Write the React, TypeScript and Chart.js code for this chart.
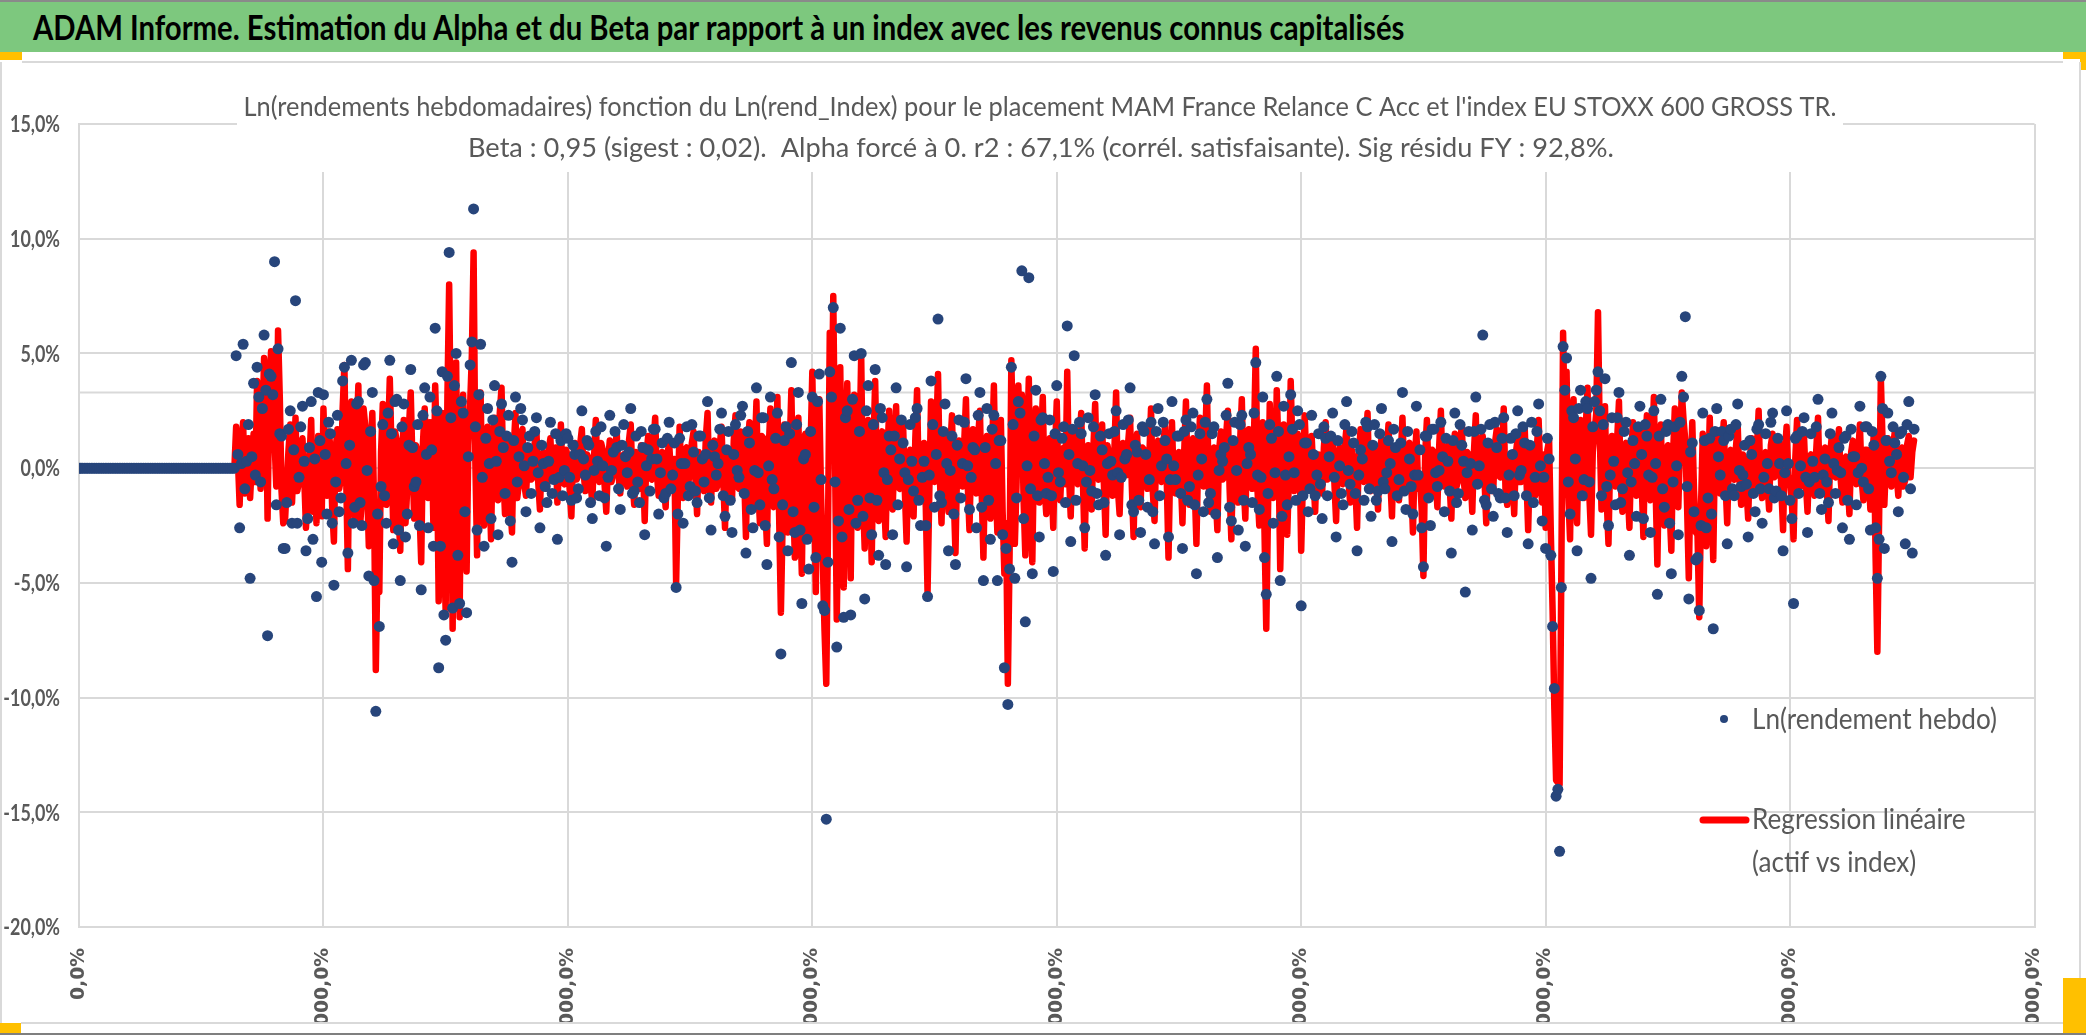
import React, { useEffect, useRef } from "react";
import { Chart, registerables } from "chart.js";

Chart.register(...registerables);

// ---------------- Texts ----------------
const headerTitle =
  "ADAM Informe. Estimation du Alpha et du Beta par rapport à un index avec les revenus connus capitalisés";
const chartTitleLine1 =
  "Ln(rendements hebdomadaires) fonction du Ln(rend_Index) pour le placement MAM France Relance C Acc et l'index EU STOXX 600 GROSS TR.";
const chartTitleLine2 =
  "Beta : 0,95 (sigest : 0,02).  Alpha forcé à 0. r2 : 67,1% (corrél. satisfaisante). Sig résidu FY : 92,8%.";
const legendFund = "Ln(rendement hebdo)";
const legendRegLine1 = "Regression linéaire";
const legendRegLine2 = "(actif vs index)";

// ---------------- Axes ----------------
const xTickLabels = [
  "0,0%",
  "3738000,0%",
  "3878000,0%",
  "4018000,0%",
  "4158000,0%",
  "4298000,0%",
  "4438000,0%",
  "4578000,0%",
  "4718000,0%",
];
const xMin = 0;
const xMax = 1120;
const xStep = 140;
const yMin = -20;
const yMax = 15;
const yStep = 5;
const secondaryGridValue = 3.3;

// ---------------- Data (weekly log-returns, %) ----------------
// weeks before the fund's history: flat at 0
const leadingZeros = [
  0, 0, 0, 0, 0, 0, 0, 0, 0, 0, 0, 0, 0, 0, 0, 0, 0, 0, 0, 0, 0, 0, 0, 0, 0, 0, 0, 0, 0, 0,
  0, 0, 0, 0, 0, 0, 0, 0, 0, 0, 0, 0, 0, 0, 0, 0, 0, 0, 0, 0, 0, 0, 0, 0, 0, 0, 0, 0, 0, 0,
  0, 0, 0, 0, 0, 0, 0, 0, 0, 0, 0, 0, 0, 0, 0, 0, 0, 0, 0, 0, 0, 0, 0, 0, 0, 0, 0, 0, 0, 0,
];

// fund weekly log-returns, even weeks
const fundEvenWeeks = [
  4.9, -2.6, 5.4, 0.3, -4.8, 3.7, 4.4, -0.6, 5.8, -7.3, 4.0, 9.0, 5.2, 1.4,
  -3.5, 1.7, -2.4, 7.3, -0.4, 2.7, -3.6, 0.9, -3.1, -5.6, 1.2, 3.2, -2.0, 1.5, -5.1, 2.3, -1.3, 4.4,
  -3.7, 4.7, -1.7, 2.9, -2.5, 4.6, -4.7, 3.3, -10.6, -6.9,
  1.9, -2.4, 4.7, -3.3, 3.0, -4.9, 2.8, -2.0, 4.3, -0.8, 1.9, -5.3, 3.5, -2.6, 0.8,
  6.1, -8.7, 4.2, -7.5, 9.4, -6.1, 5.0, -5.9, 2.4, -6.3, 4.5, 11.3, -2.7,
  5.4, -3.4, 2.6, -2.2, 3.6, -2.9, 2.8, -1.1, 2.3, -4.1, 3.1, 0.5, 2.1,
  -1.9, 1.4, 0.3, 2.2, -2.6, 0.2, -1.5, 2.0, -0.5, -3.1,
  1.2, -0.1, 1.3, -1.4, 0.6, -0.9, 2.5, -0.3, 1.0, -2.2,
  1.6, -1.2, 0.1, -3.4, 2.3, 0.7, 0.9, -1.8, 1.9, -0.2,
  2.6, -1.0, -0.6, 1.6, -2.9, 0.8, 0.4, 1.7, -2.0, 1.1,
  -1.1, 2.0, -0.3, -5.2, 1.3, -2.4, 1.8, -0.8, 0.7, -1.5,
  1.4, -0.6, 2.9, -2.7, 0.5, 0.2, 2.4, -2.1, 1.6, -2.8,
  1.9, -0.4, 2.7, -3.7, 1.1, -2.6, 3.5, -1.6, 2.2, -4.2,
  3.1, -0.9, 2.4, -8.1, 1.2,
  -3.6, 4.6, -2.8, 3.3, -5.9, 0.6, -4.4, 3.1, -3.9, 4.1,
  -6.0, -15.3, 4.2, 7.0, -7.8, 6.1, -6.5, 2.5, -6.4, 4.9,
  -1.4, 5.0, -5.7, 3.6, -2.9, 4.3, -3.8, 2.2, -4.2, 1.4,
  -2.9, 3.5, 0.4, 1.1, -4.3, 1.9, -1.0, 2.6, -2.5, 0.3,
  -5.6, 3.8, -1.7, 6.5, -1.5, 2.8, -3.6, 1.4, -4.2, 2.1,
  0.2, 3.9, -1.8, 0.9, -2.6, 3.3, -4.9, 2.6, -3.1, 2.3,
  -4.9, 1.2, -8.7, -10.3, 4.4, -4.8, 2.9, 8.6, -6.7, 8.3, -4.6, 3.4, -3.0, 2.2, -1.1,
  2.1, -4.5, 3.6, -0.6, 1.8, 6.2, -3.2, 4.9, 0.2, 1.5,
  -2.6, 2.2, -1.0, 3.2, -1.6, 0.8, -3.8, 1.5, -0.3, 2.5,
  -2.9, 1.9, 0.6, 3.5, -1.9, 0.7, -2.8, 1.6, -1.7, 2.0,
  -3.3, 2.6, 0.1, 1.2, -3.0, 2.9, -0.5, 1.4,
  -3.5, 2.1, -0.8, 2.4, -4.6, 1.5, -1.9, 3.0, -1.1, 1.8,
  -3.9, 0.6, 0.9, 3.7, -2.3, 2.0, -2.7, 2.3, -3.4, 0.9,
  -1.5, 4.6, -1.8, 3.1, -5.5, 1.9, -2.4, 4.0, -4.9, 2.7,
  -1.6, 3.2, -0.2, 2.5, -6.0, 1.1, -1.9,
  2.3, -1.2, 1.5, -2.2, 1.3, 0.5, 2.4, -3.0, 0.1, -1.6,
  2.9, -0.7, 1.1, -3.6, 0.8, -1.4, 1.8, -2.1, 1.9, -1.0,
  2.6, -0.9, 1.2, -3.2, 0.9, -0.5, 3.3, -1.8, 0.4, -2.0,
  2.7, 0.8, -4.3, 1.4, -2.5, 1.7, -0.8, 2.0, -1.9, 0.3,
  -3.7, 2.4, -1.1, 1.0, -5.4, 1.6, -2.7, 3.1, 0.1, 5.8,
  -1.6, 1.9, -2.1, 0.9, -1.3, 2.2, -2.8, 1.3, -1.2, 2.5,
  -0.1, 1.1, -3.3, 2.0, -0.4, 2.8, -2.3,
  -3.5, 0.4, -6.9, -14.3, -16.7, 5.3, 4.8, -2.0,
  2.2, -3.6, 3.4, -0.5, 2.6, -4.8, 2.9, 4.2, -1.2, 3.9, -2.5, 2.2, -1.6, 3.3, -0.9, 2.0, -3.8, 1.2, -2.1,
  2.7, -2.2, 1.4, -2.8, 2.5, -5.5, 3.0, -1.7, 1.9, -4.6, 1.8, -2.9, 4.0, 6.6, -5.7, 1.1, -4.0, -6.2, 2.4, -2.6, 1.3, -7.0,
  2.6, -0.3, 1.2, -3.3, 1.7, -1.2, 2.8, -0.8, 1.0, -3.0,
  0.6, -1.9, 1.9, -2.4, 1.5, -0.9, 2.4, -1.0, 0.2, -3.6,
  2.5, -1.4, -5.9, 1.4, 0.1, 2.2, -2.8, 1.5, -0.4, 3.0,
  -1.8, 0.4, -1.5, 2.4, -1.1, 0.9, -2.6, 1.4, -3.1, 0.5,
  -1.6, 2.7, -0.6, 1.8, -2.7,
  1.0, -4.8, 4.0, -3.5, 2.4, -0.2, 1.1, -1.9, 1.6, -3.3, 2.9, -3.7,
];

// fund weekly log-returns, odd weeks
const fundOddWeeks = [
  0.6, 0.2, -0.9, 1.9, 0.5, -0.3, 3.1, 2.6, 3.4, 4.1, 3.2, -1.6, 1.5, -3.5,
  -1.5, 2.5, 0.8, -2.4, 1.8, 0.3, -2.2, 2.9, 0.4, 3.3, -4.1, 0.6, 2.0, -2.4, -0.6, -1.9, 3.8, 0.2,
  1.0, -2.4, 2.8, -1.5, 4.5, -0.1, 1.6, -4.9, -2.0, -0.8,
  -1.2, 2.4, 1.5, 2.9, -2.7, 1.8, -3.0, 1.0, 0.9, -0.6, -2.5, 2.3, 0.6, 3.1, -3.4,
  2.5, -3.4, -6.4, 4.0, 2.2, 3.6, -3.8, 2.9, -1.9, 0.5, 5.5, 1.8, 3.2,
  -0.4, 1.3, 0.2, 2.1, 0.3, 1.6, 0.9, 1.4, -2.3, 1.2, -0.6, 2.6, 0.1,
  0.9, -1.1, 1.6, -0.2, 1.0, -0.8, 0.3, -1.1, 1.5, -0.4,
  -1.2, 1.5, -0.4, 1.0, -1.3, 0.6, 0.4, 1.2, -1.5, -0.1,
  0.3, 1.8, -1.3, -0.4, -0.1, 1.6, -0.9, 1.0, 0.5, 0.7,
  -1.1, 1.4, -1.5, 0.9, 0.1, -1.0, 1.7, 0.4, -0.2, -1.3,
  1.3, -0.9, 1.1, -2.0, 0.2, 0.2, -1.2, 1.9, -1.0, 1.4,
  0.4, 0.6, -1.3, 1.0, -0.3, 1.7, -1.2, 0.8, -1.4, 0.6,
  -0.1, 2.3, -1.1, 1.6, -1.8, -0.1, -0.2, 2.2, -2.5, 0.1,
  -0.5, 1.3, -3.0, -1.6, 1.8,
  1.5, -1.9, 1.9, -2.7, 0.4, -3.1, 1.6, -1.7, 2.9, -0.5,
  -6.2, -4.1, 3.1, -0.6, -2.3, -3.0, 2.2, -1.8, 3.0, -2.4,
  1.6, -2.1, 2.5, -1.3, 1.9, -1.4, 2.6, -0.2, -0.5, 0.8,
  1.4, -1.6, 2.1, -0.2, -0.5, 0.3, 2.2, -1.4, -0.4, -2.5,
  -0.3, 1.9, 0.6, -1.2, 1.6, 0.2, -0.1, -2.0, 1.0, -1.3,
  2.0, 0.1, -0.4, 0.8, 2.3, -1.7, 0.9, -1.4, 1.7, 0.2,
  1.2, -2.9, -3.5, -4.4, 1.9, -1.3, 2.4, -2.2, 0.1, -0.9, 1.4, -1.2, 2.1, 0.2, -0.4,
  -1.2, 1.5, -0.2, 1.3, -1.5, 0.6, 1.7, -1.4, 2.0, 0.1,
  -0.6, -0.1, 1.8, -1.1, 1.4, -1.5, 0.2, 0.3, 1.6, -0.2,
  -0.4, 0.4, 2.1, -1.6, 1.0, -1.4, 1.8, 0.6, -0.5, -1.9,
  1.6, -1.2, 2.0, 0.4, -0.5, 0.1, 1.4, -1.1,
  1.6, -1.4, 1.8, -1.6, -0.3, 0.4, 2.0, -1.5, 1.5, -2.0,
  -0.1, 0.3, 2.3, -1.7, 1.2, -0.1, 1.9, -1.4, 0.2, 0.6,
  2.4, -0.3, -0.4, -3.9, -1.1, 1.3, -0.2, 1.6, -2.1, -0.3,
  0.5, 1.7, -1.4, 1.9, -1.2, 1.1, -0.9,
  0.6, -0.3, -0.7, 1.8, -1.2, 1.4, -0.4, 1.2, -1.1, 1.9,
  -0.1, 1.6, -1.1, -0.3, 0.4, 2.0, -0.9, 1.0, -1.4, 1.5,
  -0.6, -0.2, 0.2, 1.7, -1.2, 1.1, -1.0, 1.6, -0.8, -0.3,
  -0.3, -2.6, 1.4, -1.3, 1.7, -0.2, -0.1, 0.5, 1.3, -1.0,
  1.2, -1.5, 1.9, 0.3, -0.2, 0.2, 1.6, -0.7, 1.7, -1.4,
  1.1, -0.9, 2.0, -1.1, 1.3, -1.3, -0.3, 0.6, 1.5, -0.3,
  1.8, -1.2, 1.0, -1.5, 1.6, 0.1, -0.4,
  1.3, -3.8, -9.6, -14.0, -5.2, 3.4, -0.6, 2.5,
  0.4, 2.6, -1.2, 2.9, -0.6, 1.8, 3.4, 2.5, 1.9, -0.8, -0.3, 0.3, 2.2, -1.5, 1.6, -0.2, -0.6, 0.2, 1.8,
  0.6, 1.9, -0.3, -0.4, 0.2, 1.4, -0.9, 1.6, -2.4, -0.6, 0.1, 2.0, 3.1, -0.8, 0.7, -1.9, -3.9, -2.5, 1.2, -1.3, -2.0, 1.6,
  0.5, 1.6, -1.2, 1.4, -0.9, 1.9, -0.1, -0.3, -0.7, 1.2,
  -1.1, 1.7, -0.9, -0.4, 0.2, 2.0, -1.3, 1.3, -1.2, -0.2,
  0.2, -2.2, 1.3, -1.1, 1.6, -0.4, -0.6, 0.3, 1.8, -1.1,
  -0.3, -0.6, 1.5, 0.2, -0.1, -0.2, 1.3, -1.4, 1.7, 0.5,
  -0.2, 0.0, 1.8, -0.9, 1.6,
  -2.6, -3.1, 2.6, 1.2, 0.3, 1.8, 0.6, 1.5, -0.4, 1.9, -0.9, 1.7,
];

// regression line (beta x index log-return), even weeks
const regressionEvenWeeks = [
  1.8, -1.6, 2.0, 0.5, -1.3, 1.5, 3.8, -0.9, 4.8, -2.2, 5.1, 1.2, 6.0, -1.0,
  -2.3, 0.8, -1.5, 2.2, -0.6, 1.3, -2.6, 0.4, -1.9, -2.4, -0.8, 2.6, -1.2, 0.9, -3.2, 1.7, -0.5, 4.5,
  -4.4, 2.9, -2.1, 3.6, -1.4, 1.8, -3.4, 2.4, -8.8, -5.4,
  2.8, -1.6, 3.9, -2.7, 1.2, -3.6, 2.1, -0.9, 3.3, -2.2, 0.7, -4.1, 2.6, -1.3, 1.5,
  3.6, -5.8, 2.4, -6.2, 8.0, -7.0, 4.6, -6.5, 3.2, -4.5, 2.7, 9.4, -3.8,
  3.3, -2.5, 1.8, -3.1, 2.2, -1.4, 3.5, -2.0, 1.1, -2.8, 2.4, -0.6, 1.7,
  -1.2, 0.9, -0.4, 1.6, -1.8, 0.7, -0.9, 1.3, 0.2, -1.5,
  1.9, -0.7, 0.5, -2.1, 1.1, -0.3, 1.7, -1.0, 0.4, -1.4,
  2.1, -0.6, 0.8, -1.9, 1.2, -0.2, 1.5, -1.1, 0.6, -0.8,
  1.9, -1.6, 0.3, 1.0, -2.3, 1.4, -0.5, 2.2, -1.2, 0.7,
  -1.7, 1.1, -0.9, -5.0, 1.8, -1.3, 0.9, -0.2, 1.6, -2.0,
  0.5, -1.0, 2.4, -1.5, 1.2, -0.7, 1.8, -2.6, 0.8, -1.4,
  2.3, -0.9, 1.4, -3.0, 2.0, -1.8, 2.9, -2.4, 1.3, -3.3,
  2.6, -1.7, 3.1, -6.3, 1.9,
  -2.8, 3.4, -3.9, 2.2, -4.6, 1.5, -3.1, 4.2, -5.4, 3.0,
  -4.0, -9.4, 5.9, 7.5, -6.6, 4.4, -5.2, 3.7, -4.8, 3.2,
  -2.6, 4.9, -3.5, 2.1, -4.1, 3.8, -2.3, 1.6, -3.0, 2.5,
  -1.8, 2.7, -0.9, 1.9, -3.2, 0.8, -2.1, 3.4, -1.3, 1.1,
  -5.4, 2.9, -0.6, 4.1, -2.4, 1.5, -1.9, 2.3, -3.7, 1.2,
  -0.8, 3.0, -2.7, 1.7, -1.1, 2.5, -3.9, 1.4, -2.2, 3.6,
  -2.8, 2.1, -4.6, -9.4, 4.7, -3.3, 3.6, 3.2, -3.8, 3.9, -4.1, 2.6, -1.5, 3.1, -2.0,
  1.3, -2.6, 2.9, -1.4, 0.9, 4.2, -2.1, 1.6, -0.7, 2.4,
  -3.5, 1.0, -1.8, 2.8, -0.5, 1.9, -2.9, 0.6, -1.2, 3.3,
  -2.0, 1.1, -0.3, 2.2, -3.0, 1.5, -1.7, 0.8, -0.9, 2.6,
  -2.3, 1.2, -0.6, 1.8, -3.9, 2.0, -1.1, 0.7,
  -2.4, 2.9, -1.6, 1.3, -3.3, 2.2, -0.8, 3.6, -1.9, 0.9,
  -2.7, 1.6, -0.4, 2.5, -3.1, 1.0, -1.5, 3.0, -2.2, 1.7,
  -0.9, 5.2, -2.5, 2.0, -7.0, 2.8, -1.3, 3.4, -4.4, 1.9,
  -2.9, 3.8, -1.0, 1.5, -3.6, 2.3, -0.8,
  1.4, -1.9, 0.6, -1.1, 2.0, -0.4, 1.2, -2.3, 0.9, -0.7,
  1.8, -1.5, 0.3, -2.6, 1.7, -0.6, 2.4, -1.0, 0.8, -1.8,
  1.3, -0.2, 1.9, -2.1, 0.5, -1.4, 2.2, -0.9, 1.1, -2.8,
  1.6, -0.3, -4.7, 2.1, -1.2, 0.7, -1.7, 2.5, -0.8, 1.0,
  -2.2, 1.5, -0.5, 1.9, -1.3, 0.6, -1.9, 2.3, -0.7, 1.4,
  -2.4, 0.9, -1.0, 1.7, -0.4, 2.6, -1.6, 0.4, -2.0, 1.3,
  -0.6, 1.8, -2.7, 1.0, -1.2, 2.1, -1.5,
  -2.6, 1.2, -6.2, -13.6, -13.8, 5.9, 4.2, -3.1,
  3.0, -2.4, 2.1, -1.3, 3.5, -2.9, 1.6, 6.8, -1.8, 2.7, -3.3, 1.4, -0.8, 2.9, -1.9, 1.1, -2.6, 2.0, -1.2,
  1.8, -3.0, 2.3, -1.4, 3.1, -4.2, 1.9, -2.5, 1.0, -3.6, 2.6, -1.7, 3.3, 1.2, -4.8, 2.0, -2.8, -6.5, 1.5, -3.4, 2.2, -4.0,
  1.6, -1.1, 2.0, -2.4, 0.8, -0.5, 1.9, -1.6, 0.4, -2.2,
  1.3, -0.9, 2.5, -1.3, 0.7, -1.8, 1.5, -0.3, 1.1, -2.7,
  1.8, -0.6, -3.1, 2.1, -0.8, 1.4, -1.9, 0.6, -1.2, 2.2,
  -1.0, 0.9, -2.3, 1.5, -0.4, 1.7, -1.5, 0.5, -2.0, 1.2,
  -0.7, 1.9, -1.4, 0.8, -1.8,
  1.5, -8.0, 3.9, -1.6, 1.3, -0.8, 1.6, -1.2, 0.9, -0.5, 1.4, 0.7,
];

// regression line, odd weeks
const regressionOddWeeks = [
  0.4, 0.9, -1.1, 1.3, 0.2, -0.6, 2.9, 1.6, 3.6, 3.2, 4.4, -0.8, 3.1, -2.4,
  -0.7, 1.9, 0.3, -1.0, 0.9, -0.4, -1.2, 2.1, 0.6, 1.4, -2.1, 0.2, 1.6, -1.7, 0.8, -0.9, 2.6, -0.3,
  1.7, -1.0, 1.4, -2.5, 2.6, -0.8, 0.9, -1.6, -3.9, 0.7,
  -0.5, 1.3, 0.8, 1.6, -1.9, 0.4, -2.4, 1.8, 0.2, 1.0, -1.8, 1.1, -0.4, 2.0, -2.6,
  0.9, -2.1, -3.5, 3.1, 1.4, 2.2, -2.8, 1.7, -1.2, 1.0, 4.9, 0.3, 2.4,
  -1.1, 0.6, -0.4, 1.2, -0.9, 2.4, -0.2, 0.8, -1.6, 0.9, -1.3, 1.5, -0.7,
  0.3, -0.5, 1.1, -0.6, 0.4, -0.3, 0.8, -0.4, 0.9, 0.2,
  -0.6, 0.8, -0.9, 0.4, -0.5, 1.0, -0.2, 0.6, -0.8, 0.5,
  -0.4, 1.1, -0.7, 0.3, -0.6, 0.9, -0.3, 0.5, -0.2, 1.2,
  -0.5, 0.7, -0.9, 0.2, 0.6, -0.4, 1.0, -0.3, 0.5, -0.8,
  0.6, -0.2, 0.4, -1.2, -0.5, 0.8, -0.6, 1.1, -0.4, 0.7,
  -0.3, 1.3, -0.6, 0.4, -0.9, 1.0, -0.5, 0.2, -0.7, 1.2,
  -0.8, 1.6, -0.4, 0.9, -1.1, 0.6, -0.9, 1.4, -1.6, 0.8,
  -1.2, 0.5, -2.1, -2.4, 0.9,
  0.8, -1.2, 0.5, -1.9, 1.1, -2.3, 0.9, -0.8, 1.6, -1.1,
  -7.1, -2.6, 1.2, 0.6, -1.4, -2.1, 1.0, -0.9, 1.8, -1.5,
  0.7, -1.2, 1.3, -0.6, 0.9, -0.5, 1.4, -1.1, 0.6, -0.2,
  0.6, -0.8, 1.2, -1.0, 0.4, -0.6, 1.3, -0.9, 0.5, -1.7,
  -1.1, 0.7, 1.5, -0.3, 0.8, -0.5, 0.9, -1.2, 0.3, -0.4,
  1.1, -0.7, 0.6, -0.3, 1.4, -1.0, 0.2, -0.5, 0.9, -0.6,
  0.5, -1.9, -2.4, -3.7, 0.8, -0.6, 1.2, -1.4, 0.9, -1.8, 0.7, -0.4, 1.3, -0.8, 0.6,
  -0.4, 0.7, -0.9, 0.5, -0.7, -0.3, 0.8, -0.5, 1.1, -0.6,
  0.4, -0.8, 0.9, -0.2, 0.6, -0.7, 1.0, -0.4, 0.7, -0.9,
  0.5, -0.3, 1.2, -0.8, 0.3, -0.6, 0.9, -0.2, 0.5, -1.0,
  0.8, -0.4, 1.1, -0.5, 0.2, -0.7, 0.6, -0.3,
  0.7, -0.6, 0.9, -0.8, 0.5, -0.4, 1.2, -0.7, 0.6, -1.1,
  0.8, -0.5, 1.4, -0.9, 0.4, -0.8, 1.1, -0.6, 0.9, -0.3,
  1.5, -1.0, 0.6, -2.8, -1.9, 0.4, -0.9, 0.7, -1.2, 0.5,
  -0.4, 0.8, -0.6, 1.0, -0.5, 0.3, -0.2,
  -0.3, 0.6, -0.8, 0.9, -0.5, 0.7, -0.6, 0.4, -0.2, 1.0,
  -0.4, 0.8, -0.7, 0.5, -0.3, 1.1, -0.6, 0.3, -0.5, 0.7,
  -0.8, 0.6, -0.4, 0.9, -0.7, 0.5, -0.2, 0.8, -0.6, 0.4,
  -0.9, -1.8, 0.6, -0.5, 0.8, -0.4, 0.9, -0.3, 0.6, -0.7,
  0.5, -0.8, 1.0, -0.4, 0.7, -0.3, 0.8, -0.6, 0.9, -0.5,
  0.4, -0.7, 1.1, -0.3, 0.6, -0.9, 0.5, -0.2, 0.7, -0.6,
  1.0, -0.4, 0.3, -0.8, 0.9, -0.5, 0.6,
  0.8, -2.9, -10.5, -13.7, -4.5, 1.6, -1.2, 1.9,
  -0.9, 1.2, -0.6, 1.8, -1.1, 0.7, 2.4, 1.5, 0.9, -1.4, 0.6, -0.5, 1.3, -0.7, 0.8, -0.9, 0.5, -0.6, 1.0,
  -0.6, 0.9, -1.2, 0.8, -0.9, 0.5, -1.4, 0.7, -1.8, 0.6, -0.8, 1.1, 2.1, -1.6, -0.4, -1.0, -2.9, -1.7, 0.4, -0.8, -1.1, 0.9,
  -0.4, 0.7, -0.6, 0.5, -0.3, 0.9, -0.5, 0.6, -0.8, 0.4,
  -0.2, 0.8, -0.7, 0.3, -0.6, 1.0, -0.4, 0.5, -0.9, 0.6,
  -0.3, -1.4, 0.4, -0.5, 0.7, -0.6, 0.3, -0.4, 0.8, -0.7,
  0.5, -0.8, 0.6, -0.3, 0.9, -0.5, 0.4, -0.6, 0.7, -0.4,
  0.6, -0.5, 0.8, -0.3, 0.5,
  -3.9, -2.2, 1.1, 0.4, -0.5, 0.9, -0.3, 0.6, -0.8, 1.0, -0.4, 1.2,
];

// ---------------- Styling ----------------
const UI_FONT = "Lato, 'Open Sans', 'DejaVu Sans', sans-serif";
const X_FONT = "'DejaVu Sans', sans-serif";
const TEXT_GREY = "#595959";
const GRID = "#d9d9d9";
const DOT_BLUE = "#27457b";
const LINE_RED = "#ff0000";

const CANVAS_TOP = 62;
const CANVAS_W = 2078;
const CANVAS_H = 960;

const HEADER_SIZE = 34.5;
const TITLE_SIZE = 26.5;
const LEGEND_SIZE = 29;
const YTICK_SIZE = 23;

function measure(text: string, weight: string, size: number, family: string): number {
  const c = document.createElement("canvas").getContext("2d");
  if (!c) return text.length * size * 0.5;
  c.font = `${weight} ${size}px ${family}`;
  return c.measureText(text).width;
}

const fmtPct = (v: number) => `${v.toFixed(1).replace(".", ",")}%`;

function interleave(even: number[], odd: number[]): number[] {
  const out: number[] = [];
  for (let i = 0; i < even.length; i++) {
    out.push(even[i]);
    if (i < odd.length) out.push(odd[i]);
  }
  return out;
}

function drawCondensed(
  ctx: CanvasRenderingContext2D,
  text: string,
  x: number,
  baseline: number,
  sx: number,
  align: CanvasTextAlign
) {
  ctx.save();
  ctx.translate(x, baseline);
  ctx.scale(sx, 1);
  ctx.textAlign = align;
  ctx.textBaseline = "alphabetic";
  ctx.fillText(text, 0, 0);
  ctx.restore();
}

export default function App() {
  const canvasRef = useRef<HTMLCanvasElement | null>(null);
  const headerSX = 1373 / measure(headerTitle, "bold", HEADER_SIZE, UI_FONT);

  useEffect(() => {
    const canvas = canvasRef.current;
    if (!canvas) return;

    const xSize = (100 * 52) / measure("0,0%", "bold", 100, X_FONT);
    const ySX = 50 / measure("15,0%", "bold", YTICK_SIZE, UI_FONT);
    const title1SX = 1593 / measure(chartTitleLine1, "normal", TITLE_SIZE, UI_FONT);
    const title2SX = 1146 / measure(chartTitleLine2, "normal", TITLE_SIZE, UI_FONT);
    const legSX = 245 / measure(legendFund, "normal", LEGEND_SIZE, UI_FONT);

    const fundValues = [...leadingZeros, ...interleave(fundEvenWeeks, fundOddWeeks)];
    const regValues = [...leadingZeros, ...interleave(regressionEvenWeeks, regressionOddWeeks)];
    const fundData = fundValues.map((v, i) => ({ x: i, y: v }));
    const regData = regValues.map((v, i) => ({ x: i, y: v }));

    const overlay = {
      id: "overlay",
      beforeDatasetsDraw(chart: any) {
        const { ctx, chartArea, scales } = chart;
        const y = scales.y.getPixelForValue(secondaryGridValue);
        ctx.save();
        ctx.strokeStyle = GRID;
        ctx.lineWidth = 2;
        ctx.beginPath();
        ctx.moveTo(chartArea.left, y);
        ctx.lineTo(chartArea.right, y);
        ctx.stroke();
        ctx.restore();
      },
      afterDraw(chart: any) {
        const ctx = chart.ctx as CanvasRenderingContext2D;
        ctx.save();
        const yScale = chart.scales.y;
        ctx.fillStyle = TEXT_GREY;
        ctx.font = `bold ${YTICK_SIZE}px ${UI_FONT}`;
        for (const t of yScale.ticks) {
          const py = yScale.getPixelForValue(t.value);
          drawCondensed(ctx, fmtPct(t.value), 60, py + YTICK_SIZE * 0.36, ySX, "right");
        }

        ctx.fillStyle = "#ffffff";
        ctx.fillRect(237, 80 - CANVAS_TOP, 1843 - 237, 172 - 80);
        ctx.fillStyle = TEXT_GREY;
        ctx.font = `normal ${TITLE_SIZE}px ${UI_FONT}`;
        drawCondensed(ctx, chartTitleLine1, 1040, 116 - CANVAS_TOP, title1SX, "center");
        drawCondensed(ctx, chartTitleLine2, 1041, 157 - CANVAS_TOP, title2SX, "center");

        ctx.fillStyle = DOT_BLUE;
        ctx.beginPath();
        ctx.arc(1724, 719 - CANVAS_TOP, 4, 0, Math.PI * 2);
        ctx.fill();
        ctx.strokeStyle = LINE_RED;
        ctx.lineWidth = 7;
        ctx.lineCap = "round";
        ctx.beginPath();
        ctx.moveTo(1703, 820 - CANVAS_TOP);
        ctx.lineTo(1746, 820 - CANVAS_TOP);
        ctx.stroke();
        ctx.fillStyle = TEXT_GREY;
        ctx.font = `normal ${LEGEND_SIZE}px ${UI_FONT}`;
        drawCondensed(ctx, legendFund, 1752, 729 - CANVAS_TOP, legSX, "left");
        drawCondensed(ctx, legendRegLine1, 1752, 829 - CANVAS_TOP, legSX, "left");
        drawCondensed(ctx, legendRegLine2, 1752, 872 - CANVAS_TOP, legSX, "left");
        ctx.restore();
      },
    };

    const chart = new Chart(canvas, {
      type: "line",
      data: {
        datasets: [
          {
            label: legendFund,
            data: fundData,
            showLine: false,
            pointRadius: 5.5,
            pointHoverRadius: 5.5,
            pointBorderWidth: 0,
            pointBackgroundColor: DOT_BLUE,
            borderColor: DOT_BLUE,
          },
          {
            label: legendRegLine1 + " " + legendRegLine2,
            data: regData,
            borderColor: LINE_RED,
            borderWidth: 6.5,
            pointRadius: 0,
            tension: 0,
            borderJoinStyle: "round",
            borderCapStyle: "round",
          },
        ],
      },
      options: {
        responsive: false,
        animation: false,
        devicePixelRatio: 1,
        events: [],
        layout: { padding: { top: 62, right: 11, left: 0, bottom: 0 } },
        plugins: {
          legend: { display: false },
          tooltip: { enabled: false },
          title: { display: false },
        },
        scales: {
          x: {
            type: "linear",
            min: xMin,
            max: xMax,
            afterFit: (s: any) => {
              s.height = 95;
            },
            grid: { color: GRID, lineWidth: 2, drawTicks: false },
            border: { color: GRID, width: 2 },
            ticks: {
              stepSize: xStep,
              autoSkip: false,
              minRotation: 90,
              maxRotation: 90,
              padding: 21,
              color: TEXT_GREY,
              font: { family: X_FONT, size: xSize, weight: "bold" },
              callback: (v: any) => xTickLabels[Math.round((Number(v) - xMin) / xStep)] ?? "",
            },
          },
          y: {
            min: yMin,
            max: yMax,
            afterFit: (s: any) => {
              s.width = 79;
            },
            grid: { color: GRID, lineWidth: 2, drawTicks: false },
            border: { color: GRID, width: 2 },
            ticks: {
              stepSize: yStep,
              display: false,
              callback: (v: any) => fmtPct(Number(v)),
            },
          },
        },
      },
      plugins: [overlay],
    } as any);

    return () => chart.destroy();
  }, []);

  const abs = (l: number, t: number, w: number, h: number, bg: string): React.CSSProperties => ({
    position: "absolute",
    left: l,
    top: t,
    width: w,
    height: h,
    background: bg,
  });

  return (
    <div style={{ position: "relative", width: 2086, height: 1035, background: "#ffffff", overflow: "hidden" }}>
      <style>{`body{margin:0;}`}</style>
      <div style={{ ...abs(0, 0, 2086, 52, "#7dc87e"), borderTop: "2px solid #8a8a8a", boxSizing: "border-box" }}>
        <span
          style={{
            position: "absolute",
            left: 33,
            top: 0,
            lineHeight: "50px",
            fontFamily: UI_FONT,
            fontWeight: "bold",
            fontSize: HEADER_SIZE,
            color: "#000000",
            whiteSpace: "nowrap",
            transform: `scaleX(${headerSX})`,
            transformOrigin: "0 0",
          }}
        >
          {headerTitle}
        </span>
      </div>
      <div style={abs(0, 52, 22, 8, "#ffc000")} />
      <div style={abs(2063, 52, 23, 7, "#ffc000")} />
      <div style={abs(2080, 52, 6, 18, "#ffc000")} />
      <div style={abs(22, 61, 2041, 2, "#d9d9d9")} />
      <canvas
        ref={canvasRef}
        width={CANVAS_W}
        height={CANVAS_H}
        style={{ position: "absolute", left: 0, top: CANVAS_TOP, width: CANVAS_W, height: CANVAS_H }}
      />
      <div style={abs(2079, 62, 2, 960, "#d9d9d9")} />
      <div style={abs(0, 62, 2, 962, "#d9d9d9")} />
      <div style={abs(21, 1022, 2042, 2, "#d9d9d9")} />
      <div style={abs(0, 1023, 21, 10, "#ffc000")} />
      <div style={abs(2063, 978, 23, 55, "#ffc000")} />
      <div style={abs(0, 1033, 2086, 2, "#7f7f7f")} />
    </div>
  );
}
